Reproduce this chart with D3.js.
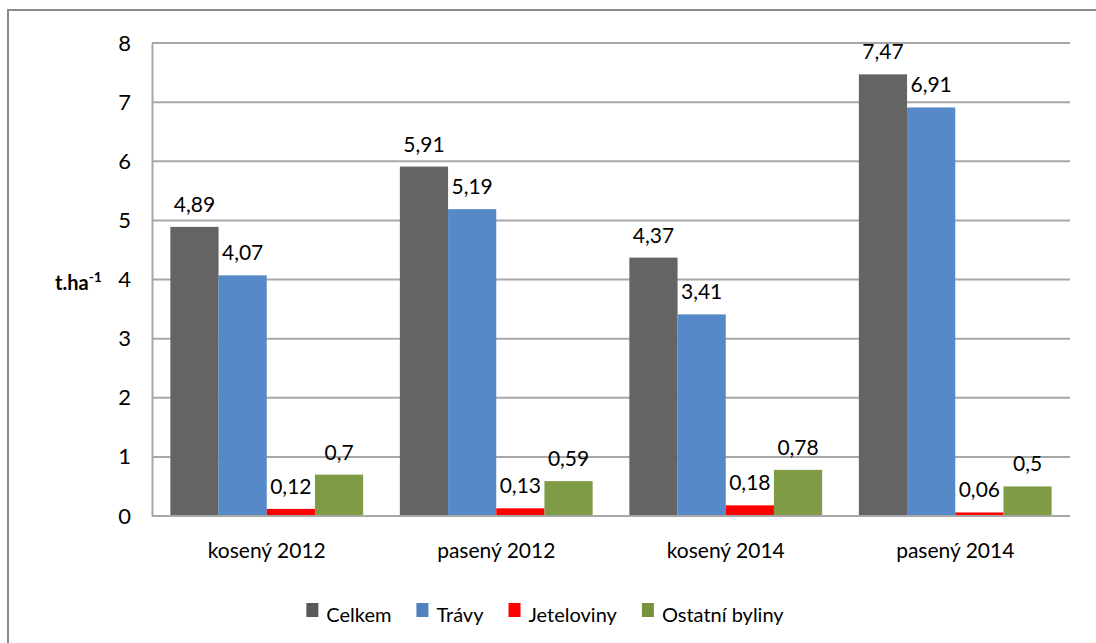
<!DOCTYPE html>
<html>
<head>
<meta charset="utf-8">
<script src="https://cdn.jsdelivr.net/npm/d3@7"></script>
<style>
  html, body { margin: 0; padding: 0; background: #ffffff; }
  svg { display: block; font-family: Lato, "Open Sans", sans-serif; }
</style>
</head>
<body>
<svg id="chart" width="1096" height="643"></svg>
<script>
// Výnos sušiny podle skupin (t.ha-1)
const categories = ["kosený 2012", "pasený 2012", "kosený 2014", "pasený 2014"];
const seriesNames = ["Celkem", "Trávy", "Jeteloviny", "Ostatní byliny"];
const celkem = [4.89, 5.91, 4.37, 7.47];
const travy = [4.07, 5.19, 3.41, 6.91];
const jeteloviny = [0.12, 0.13, 0.18, 0.06];
const ostatni = [0.7, 0.59, 0.78, 0.5];
const yTicks = [0, 1, 2, 3, 4, 5, 6, 7, 8];
const colors = ["#646464", "#5689c8", "#ff0000", "#7f9b45"];
const legendColors = ["#595959", "#4f81bd", "#ff0000", "#77933c"];

const seriesValues = [celkem, travy, jeteloviny, ostatni];
const fmt = v => String(v).replace(".", ",");

const svg = d3.select("#chart");

// outer chart frame (continues past the right and bottom edges)
svg.append("rect")
  .attr("x", 8).attr("y", 10)
  .attr("width", 1110).attr("height", 660)
  .attr("fill", "#fff")
  .attr("stroke", "#8c8c8c").attr("stroke-width", 2);

const plot = { left: 152, right: 1070, top: 43, bottom: 516 };

const x0 = d3.scaleBand()
  .domain(categories)
  .range([plot.left, plot.right])
  .paddingInner(0.16)
  .paddingOuter(0.08);

const x1 = d3.scaleBand()
  .domain(seriesNames)
  .range([0, x0.bandwidth()]);

const y = d3.scaleLinear().domain([0, 8]).range([plot.bottom, plot.top]);

// gridlines
svg.append("g")
  .selectAll("line")
  .data(yTicks)
  .join("line")
  .attr("x1", plot.left).attr("x2", plot.right)
  .attr("y1", d => y(d)).attr("y2", d => y(d))
  .attr("stroke", "#a8a8a8").attr("stroke-width", 2);

// y axis labels
const yAxis = d3.axisLeft(y).tickValues(yTicks).tickSize(0).tickPadding(21)
  .tickFormat(d => d);
const gy = svg.append("g").attr("transform", `translate(${plot.left},0)`).call(yAxis);
gy.select(".domain").attr("stroke", "#a8a8a8").attr("stroke-width", 2);
gy.selectAll("text")
  .attr("font-family", "Lato, sans-serif")
  .attr("font-size", 22)
  .attr("fill", "#000");

// axis title
const title = svg.append("text")
  .attr("x", 55).attr("y", 290)
  .attr("font-size", 20).attr("font-weight", "bold").attr("fill", "#000");
title.append("tspan").text("t.ha");
title.append("tspan").attr("font-size", 14).attr("dy", -8).text("-1");

// bars
const groups = svg.append("g")
  .selectAll("g")
  .data(categories)
  .join("g")
  .attr("transform", d => `translate(${x0(d)},0)`);

groups.selectAll("rect")
  .data((c, i) => seriesNames.map((s, j) => ({ s, j, v: seriesValues[j][i] })))
  .join("rect")
  .attr("x", d => x1(d.s))
  .attr("width", x1.bandwidth())
  .attr("y", d => y(d.v))
  .attr("height", d => y(0) - y(d.v))
  .attr("fill", d => colors[d.j]);

// value labels
groups.selectAll("text")
  .data((c, i) => seriesNames.map((s, j) => ({ s, j, v: seriesValues[j][i] })))
  .join("text")
  .attr("x", d => x1(d.s) + x1.bandwidth() / 2)
  .attr("y", d => y(d.v) - 15)
  .attr("text-anchor", "middle")
  .attr("font-size", 21)
  .attr("fill", "#000")
  .text(d => fmt(d.v));

// baseline axis
svg.append("line")
  .attr("x1", plot.left).attr("x2", plot.right)
  .attr("y1", y(0)).attr("y2", y(0))
  .attr("stroke", "#a8a8a8").attr("stroke-width", 2);

// category labels
const xAxis = d3.axisBottom(x0).tickSize(0).tickPadding(27);
const gx = svg.append("g").attr("transform", `translate(0,${plot.bottom})`).call(xAxis);
gx.select(".domain").remove();
gx.selectAll("text")
  .attr("font-family", "Lato, sans-serif")
  .attr("font-size", 21)
  .attr("fill", "#000");

// legend
const legend = svg.append("g");
let lx = 0;
seriesNames.forEach((name, i) => {
  const item = legend.append("g").attr("transform", `translate(${lx},0)`);
  item.append("rect")
    .attr("x", 0).attr("y", 603)
    .attr("width", 12).attr("height", 14)
    .attr("fill", legendColors[i]);
  const t = item.append("text")
    .attr("x", 20).attr("y", 622)
    .attr("font-size", 20).attr("fill", "#000")
    .text(name);
  lx += 20 + t.node().getComputedTextLength() + 25;
});
const legendWidth = lx - 25;
legend.attr("transform", `translate(${545 - legendWidth / 2},0)`);
</script>
</body>
</html>
